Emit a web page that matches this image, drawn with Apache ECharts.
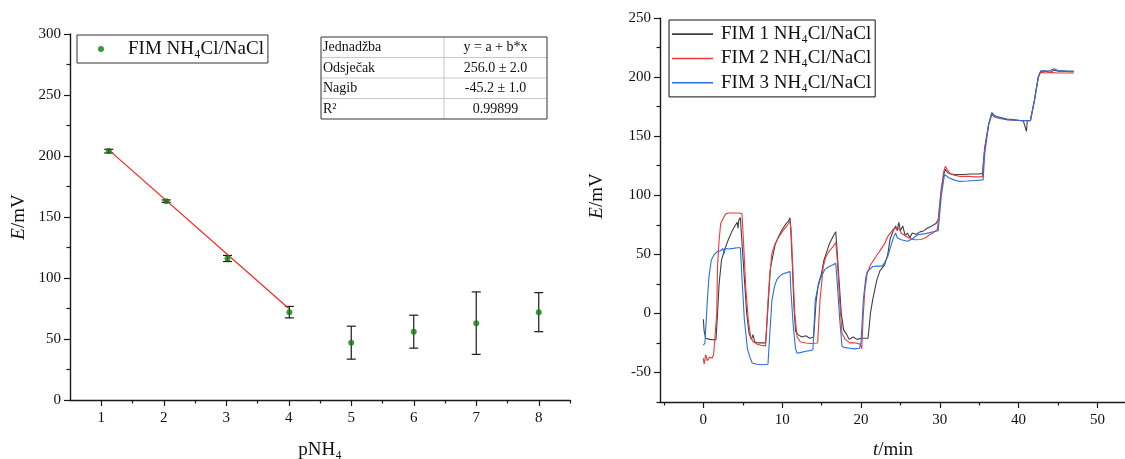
<!DOCTYPE html>
<html><head><meta charset="utf-8">
<script src="https://cdn.jsdelivr.net/npm/echarts@6/dist/echarts.min.js"></script>
<style>html,body{margin:0;padding:0;background:#fff}#c{width:1125px;height:459px}</style>
</head><body><div id="c"></div>
<script>
// ---- Left panel data ----
const pNH4   = [1.12, 2.04, 3.02, 4.01, 5.0, 6.0, 7.0, 8.0];
const E_mean = [204, 163, 116, 72, 47, 56, 63, 72];
const E_err  = [1.5, 1.0, 2.5, 4.7, 13.5, 13.5, 25.6, 16];
const fitLine = [[1.12, 205], [4.0, 75]];
const fitTable = [['Jednadžba','y = a + b*x'],['Odsječak','256.0 ± 2.0'],['Nagib','-45.2 ± 1.0'],['R²','0.99899']];
const leftXTicks = [1,2,3,4,5,6,7,8];
const leftXMinor = [1.5,2.5,3.5,4.5,5.5,6.5,7.5,8.5];
// ---- Right panel data ----
const rightXTicks = [0,10,20,30,40,50];
const rightXMinor = [-5,5,15,25,35,45];
const rightYTicks = [-50,0,50,100,150,200,250];
const rightYMinor = [-75,-25,25,75,125,175,225];
const seriesNames = ['FIM 1 NH₄Cl/NaCl','FIM 2 NH₄Cl/NaCl','FIM 3 NH₄Cl/NaCl'];
const fim1 = [[0,-5],[0.1,-15],[0.3,-21],[0.8,-22],[1.6,-22.5],[1.8,0],[2.0,25],[2.3,45],[2.7,54],[3.2,63],[3.6,69],[4.0,74],[4.3,77],[4.4,72],[4.5,79],[4.7,81],[4.8,70],[5.1,40],[5.5,0],[5.8,-17],[6.1,-22],[6.3,-18],[6.5,-24],[7.0,-25],[7.5,-25],[7.9,-25],[8.2,5],[8.5,38],[9.1,58],[9.6,66],[10.0,71],[10.5,76],[10.8,78],[11.0,81],[11.1,70],[11.3,40],[11.5,5],[11.7,-15],[12.0,-18],[12.5,-20],[13.0,-19],[13.5,-21],[14.0,-20],[14.2,-19],[14.3,10],[14.6,25],[15,34],[15.3,45],[15.6,51],[16.0,59],[16.3,63],[16.6,67],[16.8,69],[16.9,60],[17.2,30],[17.5,0],[17.8,-14],[18.2,-18],[18.5,-22],[19,-20],[19.5,-22],[20,-21],[20.5,-21],[20.9,-21],[21.2,0],[21.5,12],[22,28],[22.4,36],[23.0,41],[23.4,50],[23.7,63],[24.1,70],[24.4,74],[24.6,70],[24.8,77],[25.0,70],[25.3,74],[25.6,66],[25.9,68],[26.2,64],[26.5,68],[27,67],[27.5,69],[28.0,70],[28.4,72],[29,74],[29.5,76],[29.8,79],[30.2,105],[30.5,118],[30.7,122],[31.0,119],[31.4,118],[32,117.5],[33,117.5],[34,118],[35,118],[35.4,118.5],[35.7,140],[36.2,160],[36.6,170],[37.0,167],[37.6,166],[38.5,164.5],[39.3,164],[40,163.5],[40.6,163],[41.0,154],[41.1,163],[41.5,163],[42.0,180],[42.5,200],[42.8,205],[43.5,205],[44,204],[44.5,206],[45,205],[45.5,205],[46,205],[46.5,204.5],[47,204.5]];
const fim2 = [[0,-38],[0.1,-43],[0.3,-35],[0.5,-40],[0.8,-37],[1.1,-38],[1.3,-35],[1.5,-36],[1.7,0],[1.8,40],[2.0,62],[2.2,76],[2.5,80],[2.8,84],[3.2,85],[3.8,85],[4.4,85],[4.9,84.5],[5.1,60],[5.4,20],[5.7,-5],[6.0,-20],[6.3,-24],[6.8,-26],[7.3,-27],[7.9,-27.5],[8.2,10],[8.4,30],[8.7,51],[9.1,59],[9.6,65],[10.1,70],[10.6,74],[11.0,78],[11.15,70],[11.4,30],[11.6,0],[11.9,-20],[12.3,-24],[13.0,-25],[13.7,-25.5],[14.5,-25],[14.8,11],[15.2,39],[15.5,47],[15.9,52],[16.4,56],[16.8,60],[17.0,45],[17.3,10],[17.6,-17],[18.0,-22],[18.6,-25],[19.3,-25],[19.9,-26],[20.1,-30],[20.3,0],[20.5,20],[20.8,34],[21.2,41],[21.6,45],[22.1,50],[22.5,54],[23.0,59],[23.4,65],[23.8,68.5],[24.2,72],[24.8,72],[25.1,68],[25.4,66.5],[26.0,64],[26.8,62.3],[27.6,62.5],[28.2,64],[28.7,66.5],[29.2,68.5],[29.7,71],[30.1,100],[30.5,120],[30.7,124.5],[31.2,119],[31.8,117],[32.5,116],[33.5,116],[34.5,115.5],[35.4,115.5],[35.7,140],[36.2,160],[36.6,168],[37.0,166],[37.6,165],[38.5,164],[39.5,163.5],[40.5,163],[41.5,163],[42.0,180],[42.5,200],[42.8,204],[43.5,203.5],[44,204],[45,203.5],[46,203.5],[47,203.5]];
const fim3 = [[0,-27],[0.2,-25],[0.4,-24],[0.5,10],[0.7,30],[1.0,45],[1.4,50],[1.8,52.4],[2.2,53],[2.5,55],[2.6,50],[2.8,55],[3.2,54.5],[3.8,55],[4.3,55.5],[4.7,55.5],[4.9,30],[5.2,-5],[5.6,-30],[5.9,-37],[6.2,-42],[6.8,-43],[7.5,-43.5],[8.2,-43],[8.5,-10],[8.7,11],[9.0,22],[9.3,28.4],[9.7,31.5],[10.1,33.5],[10.6,34.5],[11.0,35.5],[11.1,20],[11.4,-10],[11.7,-30],[11.9,-33.7],[12.4,-33],[13.0,-32],[13.5,-31.5],[13.9,-31],[14.2,11],[14.5,21],[14.8,28.4],[15.1,33],[15.4,37],[15.9,39.5],[16.4,41],[16.8,42.5],[17.0,25],[17.3,-5],[17.6,-28],[18.0,-29],[18.6,-29.5],[19.2,-30],[19.8,-29.5],[20.0,-25],[20.3,11.4],[20.6,30],[20.8,35.4],[21.5,39.7],[22.1,40],[22.7,40],[23.0,43],[23.4,48],[23.7,55],[24.1,63.7],[24.4,68],[24.6,64],[25.1,62.3],[25.9,61],[26.5,63],[27.2,66.5],[28.2,67.5],[29.3,69.3],[29.8,70],[30.2,100],[30.6,117.5],[31.2,114.5],[31.8,113],[32.5,111.7],[33.5,112],[34.5,112.5],[35.5,113],[35.7,135],[36.2,160],[36.6,169],[37.0,167],[37.6,165.5],[38.5,164],[39.5,163.5],[40.5,163],[41.5,163.5],[42.0,180],[42.5,200],[42.8,205],[43.5,205],[44,205.5],[44.5,207],[45,205.5],[46,205],[47,205]];

const FONT = 'Liberation Serif';
const AX = '#1a1a1a';
const lineColors = ['#404040', '#f03a3a', '#2a6fe0'];

function mainAxis(extra) {
  return Object.assign({
    type: 'value',
    axisLine: { show: true, onZero: false, lineStyle: { color: AX, width: 1.4 } },
    axisTick: { show: true, inside: false, length: 6, lineStyle: { color: AX, width: 1.2 } },
    axisLabel: { color: '#111', fontFamily: FONT, fontSize: 15, margin: 9 },
    splitLine: { show: false }
  }, extra);
}
function minorAxis(extra, vals) {
  return Object.assign({
    type: 'value',
    axisLine: { show: false, onZero: false },
    axisTick: { show: true, inside: false, length: 3.5, customValues: vals, lineStyle: { color: AX, width: 1.2 } },
    axisLabel: { show: false },
    splitLine: { show: false }
  }, extra);
}

const errData = pNH4.map((x, i) => [x, E_mean[i], E_err[i]]);
const ptData = pNH4.map((x, i) => [x, E_mean[i]]);

// table graphic
const tbl = { x0: 321, x1: 547, xm: 444, y0: 37, rowH: 20.5 };
const tableEls = [];
fitTable.forEach((row, r) => {
  const yc = tbl.y0 + tbl.rowH * r + tbl.rowH / 2 + 0.5;
  tableEls.push({ type: 'text', x: tbl.x0 + 2, y: yc, style: { text: row[0], font: '14px "Liberation Serif"', fill: '#111', align: 'left', verticalAlign: 'middle' } });
  tableEls.push({ type: 'text', x: (tbl.xm + tbl.x1) / 2, y: yc, style: { text: row[1], font: '14px "Liberation Serif"', fill: '#111', align: 'center', verticalAlign: 'middle' } });
  if (r > 0) tableEls.push({ type: 'line', shape: { x1: tbl.x0, y1: tbl.y0 + tbl.rowH * r, x2: tbl.x1, y2: tbl.y0 + tbl.rowH * r }, style: { stroke: '#c8c8c8', lineWidth: 1 } });
});
tableEls.push({ type: 'line', shape: { x1: tbl.xm, y1: tbl.y0, x2: tbl.xm, y2: tbl.y0 + tbl.rowH * 4 }, style: { stroke: '#c8c8c8', lineWidth: 1 } });
tableEls.push({ type: 'rect', shape: { x: tbl.x0, y: tbl.y0, width: tbl.x1 - tbl.x0, height: tbl.rowH * 4 }, style: { fill: 'none', stroke: '#333', lineWidth: 1 } });

const titleRich = { i: { fontFamily: FONT, fontStyle: 'italic', fontSize: 19, fill: '#111' }, n: { fontFamily: FONT, fontSize: 19, fill: '#111' } };

const option = {
  animation: false,
  backgroundColor: '#fff',
  grid: [
    { left: 70, top: 34, width: 500, height: 366 },
    { left: 660, top: 18, width: 465, height: 384 }
  ],
  xAxis: [
    mainAxis({ gridIndex: 0, min: 0.5, max: 8.5, position: 'bottom',
      axisTick: { show: true, inside: false, length: 6, customValues: leftXTicks, lineStyle: { color: AX, width: 1.2 } },
      axisLabel: { color: '#111', fontFamily: FONT, fontSize: 15, margin: 11, customValues: leftXTicks } }),
    minorAxis({ gridIndex: 0, min: 0.5, max: 8.5, position: 'bottom' }, leftXMinor),
    mainAxis({ gridIndex: 1, min: -5.5, max: 53.5, position: 'bottom',
      axisTick: { show: true, inside: false, length: 6, customValues: rightXTicks, lineStyle: { color: AX, width: 1.2 } },
      axisLabel: { color: '#111', fontFamily: FONT, fontSize: 15, margin: 11, customValues: rightXTicks } }),
    minorAxis({ gridIndex: 1, min: -5.5, max: 53.5, position: 'bottom' }, rightXMinor)
  ],
  yAxis: [
    mainAxis({ gridIndex: 0, min: 0, max: 300, interval: 50, position: 'left',
      minorTick: { show: true, splitNumber: 2, length: 3.5, lineStyle: { color: AX, width: 1.2 } } }),
    mainAxis({ gridIndex: 1, min: -75, max: 250, position: 'left',
      axisTick: { show: true, inside: false, length: 6, customValues: rightYTicks, lineStyle: { color: AX, width: 1.2 } },
      axisLabel: { color: '#111', fontFamily: FONT, fontSize: 15, margin: 9, customValues: rightYTicks } }),
    minorAxis({ gridIndex: 1, min: -75, max: 250, position: 'left' }, rightYMinor)
  ],
  legend: [
    { data: ['FIM NH₄Cl/NaCl'], left: 77, top: 35, orient: 'vertical', icon: 'circle', itemWidth: 6, itemHeight: 6,
      padding: [2, 4, 2, 21], borderColor: '#333', borderWidth: 1, borderRadius: 0,
      textStyle: { fontFamily: FONT, fontSize: 19, color: '#111', lineHeight: 24, padding: [0, 0, 0, 19] } },
    { data: seriesNames, left: 669, top: 20, orient: 'vertical', icon: 'rect', itemWidth: 41, itemHeight: 1.6, itemGap: 0,
      padding: [2, 4, 2, 3], borderColor: '#111', borderWidth: 1, borderRadius: 0,
      textStyle: { fontFamily: FONT, fontSize: 19, color: '#111', lineHeight: 24.3, padding: [0, 0, 0, 3] } }
  ],
  graphic: [
    { type: 'group', children: tableEls },
    { type: 'text', x: 19, y: 217, rotation: Math.PI / 2, style: { text: '{i|E}{n|/mV}', rich: titleRich, align: 'center', verticalAlign: 'middle' } },
    { type: 'text', x: 597, y: 196, rotation: Math.PI / 2, style: { text: '{i|E}{n|/mV}', rich: titleRich, align: 'center', verticalAlign: 'middle' } },
    { type: 'text', x: 320, y: 450, style: { text: '{n|pNH₄}', rich: titleRich, align: 'center', verticalAlign: 'middle' } },
    { type: 'text', x: 893, y: 450, style: { text: '{i|t}{n|/min}', rich: titleRich, align: 'center', verticalAlign: 'middle' } }
  ],
  series: [
    { type: 'custom', xAxisIndex: 0, yAxisIndex: 0, data: errData, z: 3,
      renderItem: function (params, api) {
        const x = api.value(0), y = api.value(1), e = api.value(2);
        const t = api.coord([x, y + e]), b = api.coord([x, y - e]);
        const c = 4.5, st = { stroke: '#1a1a1a', lineWidth: 1.2 };
        return { type: 'group', children: [
          { type: 'line', shape: { x1: t[0], y1: t[1], x2: b[0], y2: b[1] }, style: st },
          { type: 'line', shape: { x1: t[0] - c, y1: t[1], x2: t[0] + c, y2: t[1] }, style: st },
          { type: 'line', shape: { x1: b[0] - c, y1: b[1], x2: b[0] + c, y2: b[1] }, style: st }
        ] };
      } },
    { type: 'line', name: 'fit', xAxisIndex: 0, yAxisIndex: 0, data: fitLine, symbol: 'none', z: 4,
      lineStyle: { color: '#ff1a1a', width: 1.1 } },
    { type: 'scatter', name: 'FIM NH₄Cl/NaCl', xAxisIndex: 0, yAxisIndex: 0, data: ptData, symbol: 'circle', symbolSize: 6, z: 5,
      itemStyle: { color: '#0d800d' } },
    { type: 'line', name: seriesNames[0], xAxisIndex: 2, yAxisIndex: 1, data: fim1, symbol: 'none', z: 3,
      lineStyle: { color: lineColors[0], width: 1.1 }, itemStyle: { color: lineColors[0] } },
    { type: 'line', name: seriesNames[1], xAxisIndex: 2, yAxisIndex: 1, data: fim2, symbol: 'none', z: 4,
      lineStyle: { color: lineColors[1], width: 1.1 }, itemStyle: { color: lineColors[1] } },
    { type: 'line', name: seriesNames[2], xAxisIndex: 2, yAxisIndex: 1, data: fim3, symbol: 'none', z: 5,
      lineStyle: { color: lineColors[2], width: 1.1 }, itemStyle: { color: lineColors[2] } }
  ]
};
const chart = echarts.init(document.getElementById('c'), null, { renderer: 'canvas' });
chart.setOption(option);
</script>
</body></html>
